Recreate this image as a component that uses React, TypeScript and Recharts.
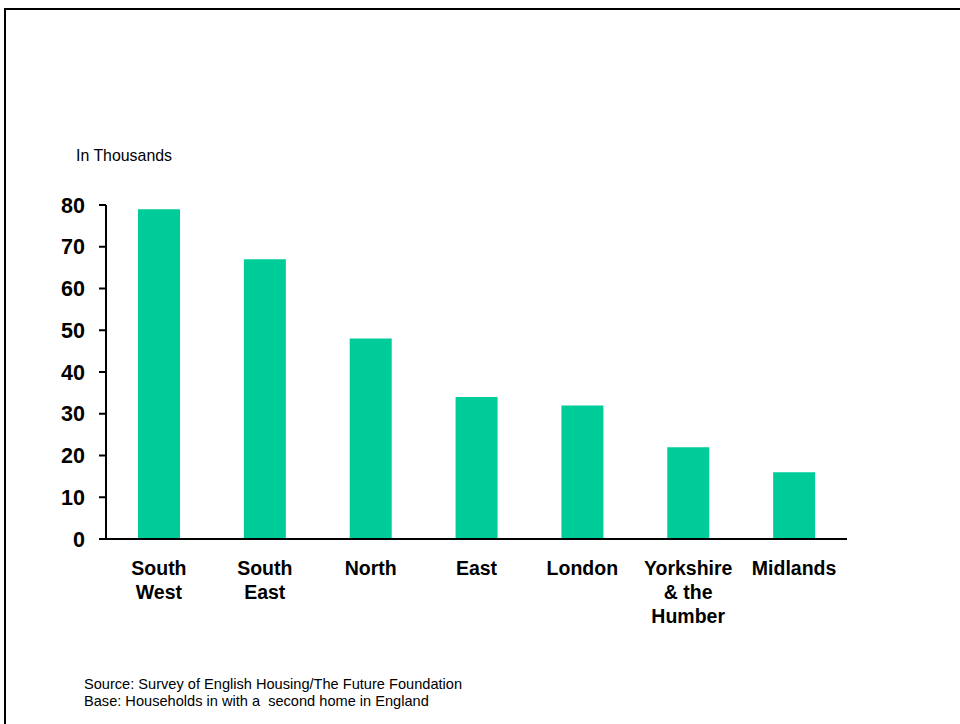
import { BarChart, Bar, XAxis, YAxis } from "recharts";

const regions = ["South\nWest", "South\nEast", "North", "East", "London", "Yorkshire\n& the\nHumber", "Midlands"];
const households = [79, 67, 48, 34, 32, 22, 16];
const yTicks = [0, 10, 20, 30, 40, 50, 60, 70, 80];

const unitLabel = "In Thousands";
const sourceLines = [
  "Source: Survey of English Housing/The Future Foundation",
  "Base: Households in with a  second home in England",
];

const data = regions.map((region, i) => ({ region, value: households[i] }));

const FONT = "'Liberation Sans', Arial, sans-serif";

function RegionTick(props: any) {
  const { x, y, payload } = props;
  const lines = String(payload.value).split("\n");
  return (
    <text
      x={x}
      y={y + 35.5}
      textAnchor="middle"
      fill="#000"
      fontFamily={FONT}
      fontWeight="bold"
      fontSize={19.5}
    >
      {lines.map((line, i) => (
        <tspan key={i} x={x} dy={i === 0 ? 0 : 24}>
          {line}
        </tspan>
      ))}
    </text>
  );
}

export default function App() {
  return (
    <div style={{ position: "relative", width: 960, height: 724, background: "#fff", overflow: "hidden" }}>
      <style>{"body{margin:0}"}</style>
      <div
        style={{
          position: "absolute",
          left: 4,
          top: 8,
          width: 1000,
          height: 800,
          borderTop: "2px solid #000",
          borderLeft: "2px solid #000",
        }}
      />
      <div
        style={{
          position: "absolute",
          left: 76,
          top: 147.5,
          fontFamily: FONT,
          fontSize: 15.9,
          lineHeight: 1,
          color: "#000",
          whiteSpace: "nowrap",
        }}
      >
        {unitLabel}
      </div>
      <div style={{ position: "absolute", left: 0, top: 0 }}>
        <BarChart width={960} height={724} data={data} margin={{ top: 205, right: 113, bottom: 0, left: 0 }}>
          <XAxis
            dataKey="region"
            height={185}
            axisLine={{ stroke: "#000", strokeWidth: 2 }}
            tickLine={false}
            tickSize={0}
            tickMargin={0}
            interval={0}
            tick={<RegionTick />}
          />
          <YAxis
            width={106}
            domain={[0, 80]}
            ticks={yTicks}
            interval={0}
            axisLine={{ stroke: "#000", strokeWidth: 2 }}
            tickLine={{ stroke: "#000", strokeWidth: 2 }}
            tickSize={7}
            tickMargin={14}
            tick={{ fill: "#000", fontSize: 21.5, fontWeight: "bold", fontFamily: FONT }}
          />
          <Bar dataKey="value" fill="#00CC99" barSize={42} isAnimationActive={false} />
        </BarChart>
      </div>
      <div
        style={{
          position: "absolute",
          left: 84,
          top: 675.5,
          fontFamily: FONT,
          fontSize: 14.6,
          lineHeight: "17.5px",
          color: "#000",
          whiteSpace: "pre",
        }}
      >
        {sourceLines.join("\n")}
      </div>
    </div>
  );
}
